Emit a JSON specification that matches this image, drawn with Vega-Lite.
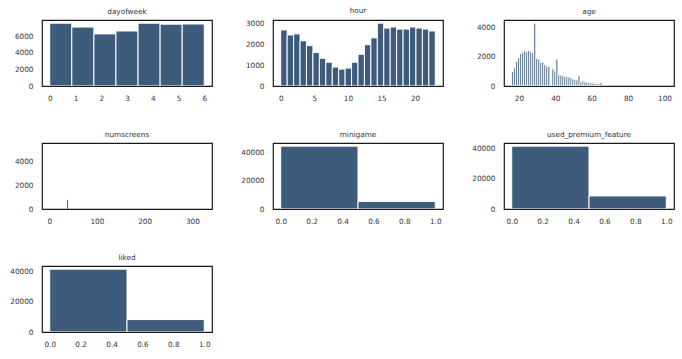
{
  "$schema": "https://vega.github.io/schema/vega-lite/v6.json",
  "background": "white",
  "padding": {"left": 9, "top": 6, "right": 5, "bottom": 5},
  "columns": 3,
  "bounds": "flush",
  "spacing": {"row": 57, "column": 61},
  "datasets": {
    "dayofweek": [
      {"start": 0.0, "end": 0.857, "count": 7560},
      {"start": 0.857, "end": 1.714, "count": 7090},
      {"start": 1.714, "end": 2.571, "count": 6270},
      {"start": 2.571, "end": 3.429, "count": 6620},
      {"start": 3.429, "end": 4.286, "count": 7560},
      {"start": 4.286, "end": 5.143, "count": 7440},
      {"start": 5.143, "end": 6.0, "count": 7460}
    ],
    "hour": [
      {"start": 0.0, "end": 0.958, "count": 2690},
      {"start": 0.958, "end": 1.917, "count": 2450},
      {"start": 1.917, "end": 2.875, "count": 2500},
      {"start": 2.875, "end": 3.833, "count": 2170},
      {"start": 3.833, "end": 4.792, "count": 1940},
      {"start": 4.792, "end": 5.75, "count": 1610},
      {"start": 5.75, "end": 6.708, "count": 1330},
      {"start": 6.708, "end": 7.667, "count": 1140},
      {"start": 7.667, "end": 8.625, "count": 910},
      {"start": 8.625, "end": 9.583, "count": 810},
      {"start": 9.583, "end": 10.542, "count": 860},
      {"start": 10.542, "end": 11.5, "count": 1140},
      {"start": 11.5, "end": 12.458, "count": 1520},
      {"start": 12.458, "end": 13.417, "count": 1980},
      {"start": 13.417, "end": 14.375, "count": 2310},
      {"start": 14.375, "end": 15.333, "count": 3015},
      {"start": 15.333, "end": 16.292, "count": 2780},
      {"start": 16.292, "end": 17.25, "count": 2830},
      {"start": 17.25, "end": 18.208, "count": 2730},
      {"start": 18.208, "end": 19.167, "count": 2730},
      {"start": 19.167, "end": 20.125, "count": 2830},
      {"start": 20.125, "end": 21.083, "count": 2780},
      {"start": 21.083, "end": 22.042, "count": 2730},
      {"start": 22.042, "end": 23.0, "count": 2640}
    ],
    "age": [
      {"start": 16.00, "end": 17.10, "count": 977},
      {"start": 17.10, "end": 18.21, "count": 1243},
      {"start": 18.21, "end": 19.31, "count": 1687},
      {"start": 19.31, "end": 20.42, "count": 1931},
      {"start": 20.42, "end": 21.52, "count": 2220},
      {"start": 21.52, "end": 22.62, "count": 2309},
      {"start": 22.62, "end": 23.73, "count": 2420},
      {"start": 23.73, "end": 24.83, "count": 2375},
      {"start": 24.83, "end": 25.94, "count": 2442},
      {"start": 25.94, "end": 27.04, "count": 2375},
      {"start": 27.04, "end": 28.14, "count": 2287},
      {"start": 28.14, "end": 29.25, "count": 4310},
      {"start": 29.25, "end": 30.35, "count": 1909},
      {"start": 30.35, "end": 31.45, "count": 1843},
      {"start": 31.45, "end": 32.56, "count": 1643},
      {"start": 32.56, "end": 33.66, "count": 1620},
      {"start": 33.66, "end": 34.77, "count": 1465},
      {"start": 34.77, "end": 35.87, "count": 1354},
      {"start": 35.87, "end": 36.97, "count": 1354},
      {"start": 38.08, "end": 39.18, "count": 1177},
      {"start": 39.18, "end": 40.29, "count": 1043},
      {"start": 40.29, "end": 41.39, "count": 1843},
      {"start": 41.39, "end": 42.49, "count": 777},
      {"start": 42.49, "end": 43.60, "count": 755},
      {"start": 43.60, "end": 44.70, "count": 710},
      {"start": 44.70, "end": 45.81, "count": 666},
      {"start": 45.81, "end": 46.91, "count": 644},
      {"start": 46.91, "end": 48.01, "count": 622},
      {"start": 48.01, "end": 49.12, "count": 555},
      {"start": 49.12, "end": 50.22, "count": 488},
      {"start": 50.22, "end": 51.32, "count": 444},
      {"start": 51.32, "end": 52.43, "count": 422},
      {"start": 52.43, "end": 53.53, "count": 710},
      {"start": 53.53, "end": 54.64, "count": 311},
      {"start": 54.64, "end": 55.74, "count": 355},
      {"start": 55.74, "end": 56.84, "count": 289},
      {"start": 56.84, "end": 57.95, "count": 266},
      {"start": 57.95, "end": 59.05, "count": 244},
      {"start": 59.05, "end": 60.16, "count": 222},
      {"start": 60.16, "end": 61.26, "count": 222},
      {"start": 61.26, "end": 62.36, "count": 178},
      {"start": 62.36, "end": 63.47, "count": 178},
      {"start": 63.47, "end": 64.57, "count": 178},
      {"start": 64.57, "end": 65.68, "count": 222}
    ],
    "numscreens": [
      {"start": 37.5, "end": 39.5, "count": 780}
    ],
    "minigame": [
      {"start": 0.0, "end": 0.5, "count": 44609},
      {"start": 0.5, "end": 1.0, "count": 5391}
    ],
    "used_premium_feature": [
      {"start": 0.0, "end": 0.5, "count": 41399},
      {"start": 0.5, "end": 1.0, "count": 8601}
    ],
    "liked": [
      {"start": 0.0, "end": 0.5, "count": 41745},
      {"start": 0.5, "end": 1.0, "count": 8255}
    ]
  },
  "concat": [
    {
      "title": "dayofweek",
      "width": 170, "height": 66,
      "data": {"name": "dayofweek"},
      "mark": {"type": "bar", "color": "#3e5b7c", "stroke": "white", "strokeWidth": 1, "clip": true},
      "encoding": {
        "x": {"field": "start", "type": "quantitative", "scale": {"domain": [-0.3, 6.3], "nice": false, "zero": false}, "axis": {"values": [0, 1, 2, 3, 4, 5, 6], "title": null}},
        "x2": {"field": "end"},
        "y": {"field": "count", "type": "quantitative", "scale": {"domain": [0, 7940], "nice": false}, "axis": {"values": [0, 2000, 4000, 6000], "format": "d", "title": null}},
        "y2": {"datum": 0}
      }
    },
    {
      "title": "hour",
      "width": 170, "height": 66,
      "data": {"name": "hour"},
      "mark": {"type": "bar", "color": "#3e5b7c", "stroke": "white", "strokeWidth": 1, "clip": true},
      "encoding": {
        "x": {"field": "start", "type": "quantitative", "scale": {"domain": [-1.15, 24.15], "nice": false, "zero": false}, "axis": {"values": [0, 5, 10, 15, 20], "title": null}},
        "x2": {"field": "end"},
        "y": {"field": "count", "type": "quantitative", "scale": {"domain": [0, 3166], "nice": false}, "axis": {"values": [0, 1000, 2000, 3000], "format": "d", "title": null}},
        "y2": {"datum": 0}
      }
    },
    {
      "title": "age",
      "width": 170, "height": 66,
      "data": {"name": "age"},
      "mark": {"type": "bar", "color": "#3e5b7c", "stroke": "white", "strokeWidth": 1, "clip": true},
      "encoding": {
        "x": {"field": "start", "type": "quantitative", "scale": {"domain": [11.75, 105.25], "nice": false, "zero": false}, "axis": {"values": [20, 40, 60, 80, 100], "title": null}},
        "x2": {"field": "end"},
        "y": {"field": "count", "type": "quantitative", "scale": {"domain": [0, 4526], "nice": false}, "axis": {"values": [0, 2000, 4000], "format": "d", "title": null}},
        "y2": {"datum": 0}
      }
    },
    {
      "title": "numscreens",
      "width": 170, "height": 66,
      "data": {"name": "numscreens"},
      "mark": {"type": "bar", "color": "#3e5b7c", "clip": true},
      "encoding": {
        "x": {"field": "start", "type": "quantitative", "scale": {"domain": [-15.2, 341.2], "nice": false, "zero": false}, "axis": {"values": [0, 100, 200, 300], "title": null}},
        "x2": {"field": "end"},
        "y": {"field": "count", "type": "quantitative", "scale": {"domain": [0, 5570], "nice": false}, "axis": {"values": [0, 2000, 4000], "format": "d", "title": null}},
        "y2": {"datum": 0}
      }
    },
    {
      "title": "minigame",
      "width": 170, "height": 66,
      "data": {"name": "minigame"},
      "mark": {"type": "bar", "color": "#3e5b7c", "stroke": "white", "strokeWidth": 1, "clip": true},
      "encoding": {
        "x": {"field": "start", "type": "quantitative", "scale": {"domain": [-0.05, 1.05], "nice": false, "zero": false}, "axis": {"values": [0, 0.2, 0.4, 0.6, 0.8, 1.0], "format": ".1f", "title": null}},
        "x2": {"field": "end"},
        "y": {"field": "count", "type": "quantitative", "scale": {"domain": [0, 46840], "nice": false}, "axis": {"values": [0, 20000, 40000], "format": "d", "title": null}},
        "y2": {"datum": 0}
      }
    },
    {
      "title": "used_premium_feature",
      "width": 170, "height": 66,
      "data": {"name": "used_premium_feature"},
      "mark": {"type": "bar", "color": "#3e5b7c", "stroke": "white", "strokeWidth": 1, "clip": true},
      "encoding": {
        "x": {"field": "start", "type": "quantitative", "scale": {"domain": [-0.05, 1.05], "nice": false, "zero": false}, "axis": {"values": [0, 0.2, 0.4, 0.6, 0.8, 1.0], "format": ".1f", "title": null}},
        "x2": {"field": "end"},
        "y": {"field": "count", "type": "quantitative", "scale": {"domain": [0, 43469], "nice": false}, "axis": {"values": [0, 20000, 40000], "format": "d", "title": null}},
        "y2": {"datum": 0}
      }
    },
    {
      "title": "liked",
      "width": 170, "height": 66,
      "data": {"name": "liked"},
      "mark": {"type": "bar", "color": "#3e5b7c", "stroke": "white", "strokeWidth": 1, "clip": true},
      "encoding": {
        "x": {"field": "start", "type": "quantitative", "scale": {"domain": [-0.05, 1.05], "nice": false, "zero": false}, "axis": {"values": [0, 0.2, 0.4, 0.6, 0.8, 1.0], "format": ".1f", "title": null}},
        "x2": {"field": "end"},
        "y": {"field": "count", "type": "quantitative", "scale": {"domain": [0, 43832], "nice": false}, "axis": {"values": [0, 20000, 40000], "format": "d", "title": null}},
        "y2": {"datum": 0}
      }
    }
  ],
  "config": {
    "font": "DejaVu Sans",
    "view": {"stroke": "#1a1a1a", "strokeWidth": 1.2},
    "axis": {"grid": false, "ticks": false, "tickSize": 0, "domain": false, "labelFontSize": 7.3, "labelColor": "#333333", "labelFont": "DejaVu Sans", "labelPadding": 8},
    "axisY": {"labelPadding": 9},
    "title": {"fontSize": 7.3, "font": "DejaVu Sans", "fontWeight": "normal", "color": "#333333", "offset": 5}
  }
}
